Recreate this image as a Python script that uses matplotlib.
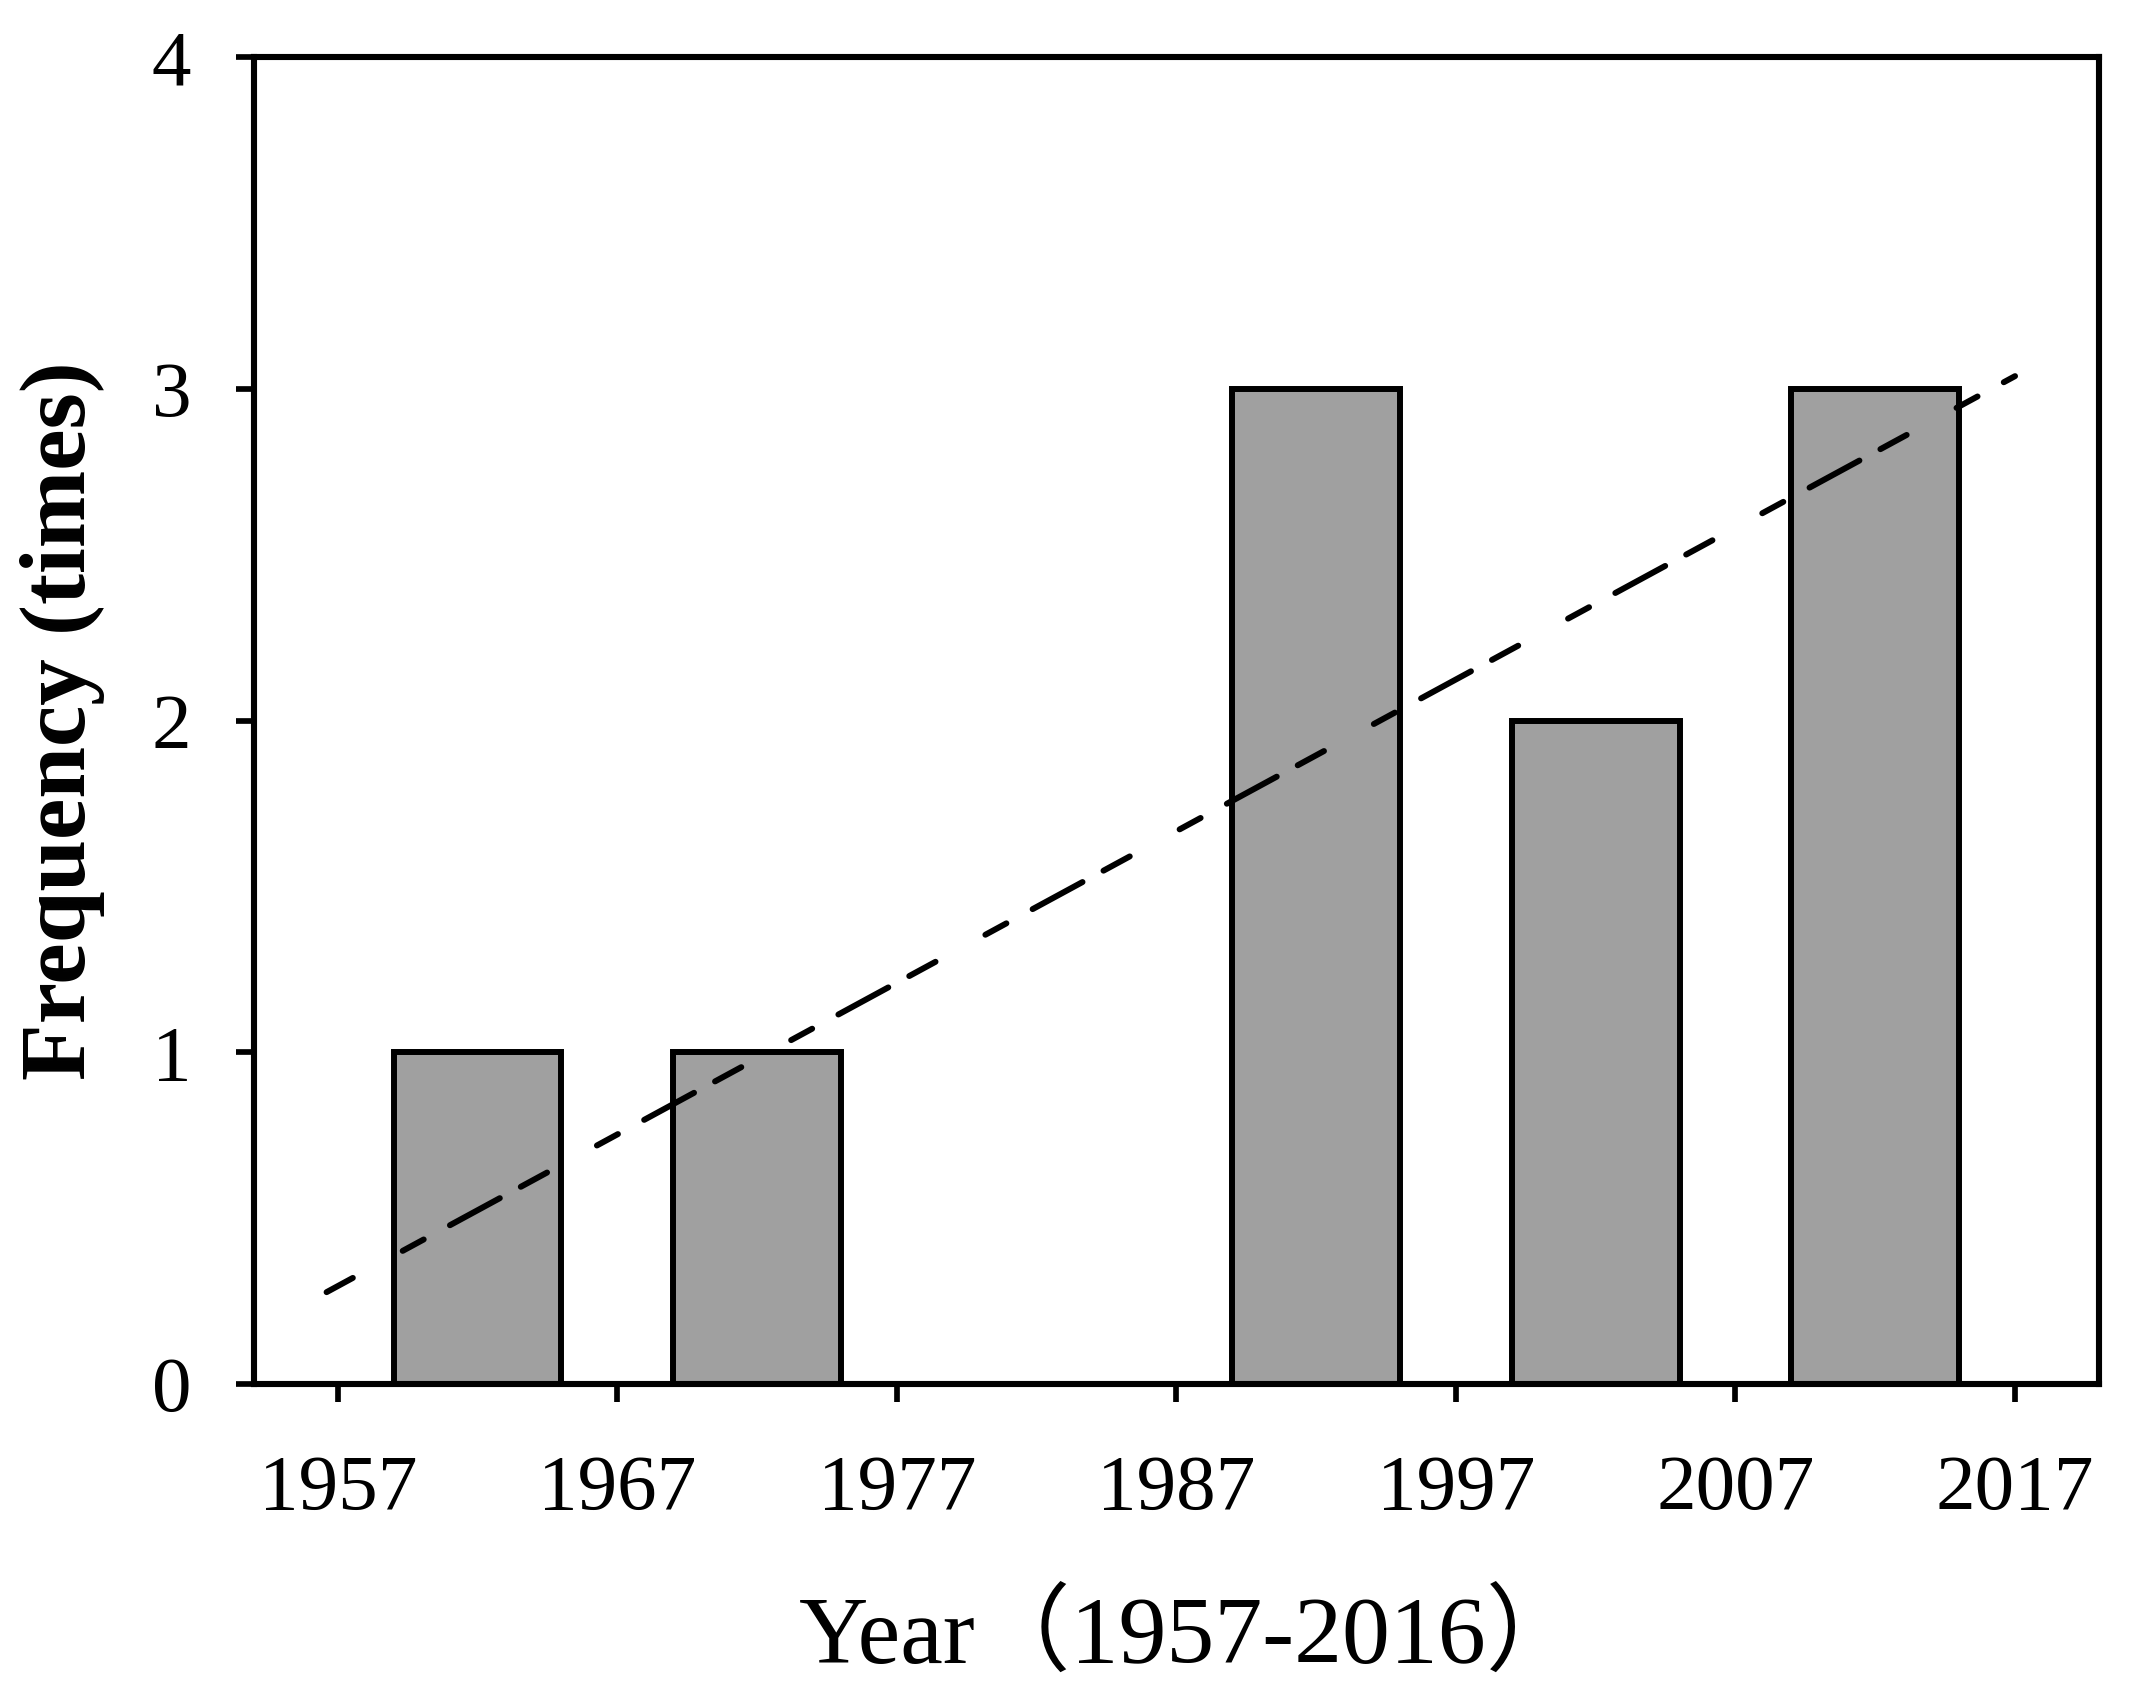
import matplotlib
matplotlib.use("Agg")
import matplotlib.pyplot as plt
import numpy as np

# decade bins (centre year) and event counts
bin_centres = [1962, 1972, 1982, 1992, 2002, 2012]
counts = [1, 1, 0, 3, 2, 3]
x_ticks = [1957, 1967, 1977, 1987, 1997, 2007, 2017]
y_ticks = [0, 1, 2, 3, 4]
trend_range = [1956.6, 2017.0]

fig = plt.figure(figsize=(21.3, 17.07), dpi=100)
ax = fig.add_axes([0.1192, 0.1892, 0.8662, 0.7774])

ax.bar(bin_centres, counts, width=6, color="#a0a0a0", edgecolor="black",
       linewidth=4.3, zorder=2)

# linear trend of the counts
slope, icpt = np.polyfit(bin_centres, counts, 1)
xt = np.array(trend_range)
line, = ax.plot(xt, slope * xt + icpt, color="black", lw=4.3,
                dash_capstyle="round", solid_capstyle="round", zorder=3)
line.set_dashes((5, 9.5, 4.0))

ax.set_xlim(1954, 2020)
ax.set_ylim(0, 4)
ax.set_xticks(x_ticks)
ax.set_yticks(y_ticks)

for s in ax.spines.values():
    s.set_linewidth(4.4)

ax.tick_params(direction="out", length=13, width=4.1, color="black")
ax.tick_params(axis="x", pad=38)
ax.tick_params(axis="y", pad=32)
for lab in ax.get_xticklabels() + ax.get_yticklabels():
    lab.set_fontfamily("Liberation Serif")
    lab.set_fontsize(57)

ax.set_ylabel("Frequency (times)", family="Liberation Serif",
              fontweight="bold", fontsize=67)
ax.yaxis.set_label_coords(-0.104, 0.5)
ax.yaxis.label.set_va("center")

ax.set_xlabel("Year（1957-2016）", family=["Liberation Serif", "Noto Sans CJK SC"],
              fontsize=69)
ax.xaxis.set_label_coords(0.508, -0.191)
ax.xaxis.label.set_va("center")

fig.savefig("out.png", dpi=100)
